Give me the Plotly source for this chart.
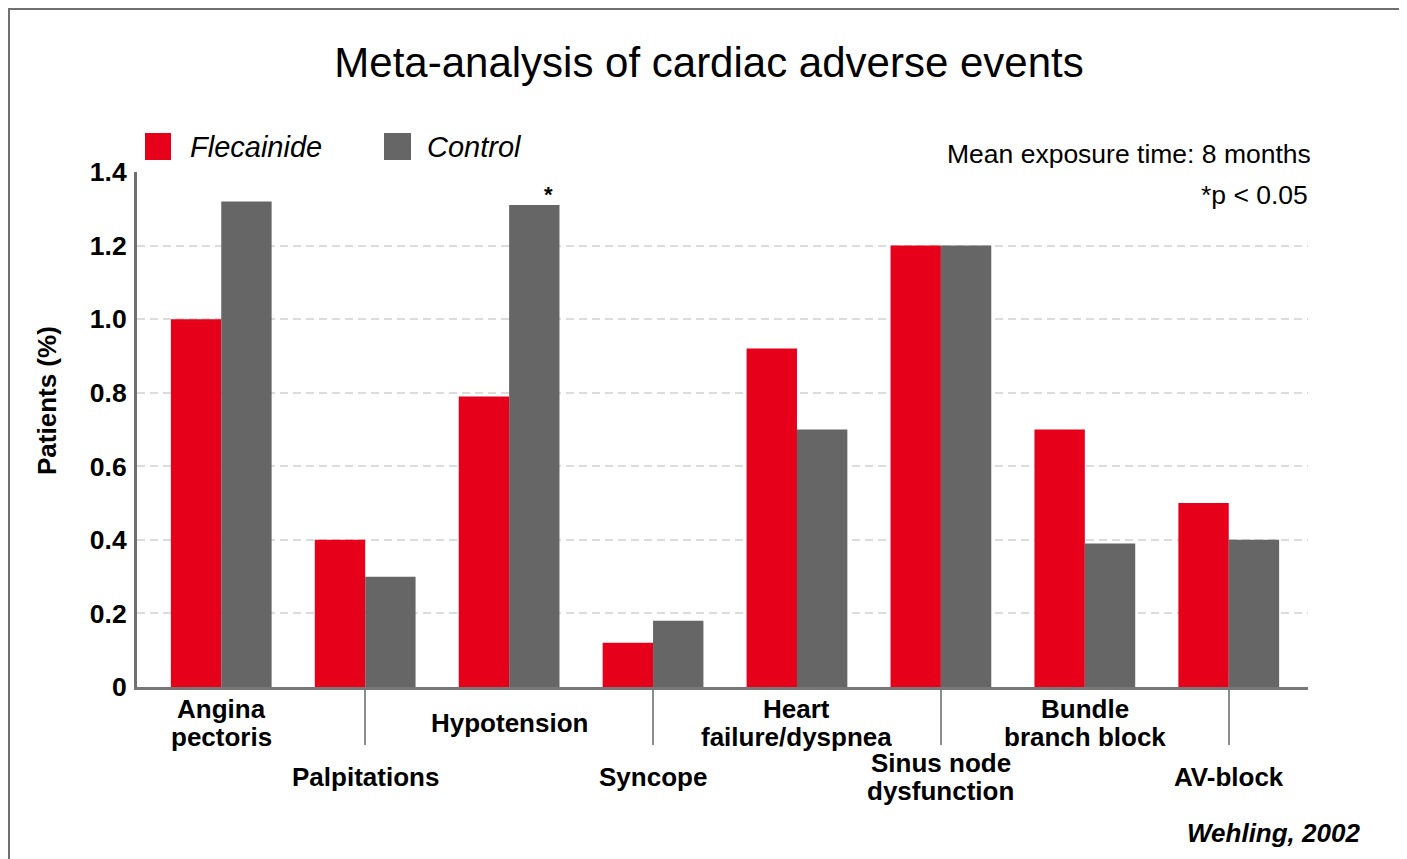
import plotly.graph_objects as go

# ---- data ----
categories = ["Angina\npectoris", "Palpitations", "Hypotension", "Syncope",
              "Heart\nfailure/dyspnea", "Sinus node\ndysfunction",
              "Bundle\nbranch block", "AV-block"]
label_row = [0, 1, 0, 1, 0, 1, 0, 1]
series_names = ["Flecainide", "Control"]
flecainide = [1.00, 0.40, 0.79, 0.12, 0.92, 1.20, 0.70, 0.50]
control = [1.32, 0.30, 1.31, 0.18, 0.70, 1.20, 0.39, 0.40]
control_sig = [False, False, True, False, False, False, False, False]
y_ticks = [0, 0.2, 0.4, 0.6, 0.8, 1.0, 1.2, 1.4]
y_ticktext = ["0", "0.2", "0.4", "0.6", "0.8", "1.0", "1.2", "1.4"]
colors = ["#E6001A", "#666666"]

# ---- layout geometry (pixels, page offset by body margin) ----
OFF = 8
W_FIG, H_FIG = 1407, 859
L, R, T, B = 137 - OFF, 1308 - OFF, 172 - OFF, 687 - OFF
PW, PH = R - L, B - T
FONT = "Liberation Sans, Arial, sans-serif"


def px(x):
    return (x - OFF - L) / PW


def py(y):
    return (B - (y - OFF)) / PH


xs = list(range(len(categories)))
fig = go.Figure()
for name, vals, col in zip(series_names, [flecainide, control], colors):
    fig.add_trace(go.Bar(x=xs, y=vals, name=name, marker=dict(color=col, line=dict(width=0)),
                         showlegend=False))

annotations = []
shapes = []

# x category labels (alternating rows)
row_center = [723, 777]
LINE_H = 28
for i, (lab, row) in enumerate(zip(categories, label_row)):
    lines = lab.split("\n")
    n = len(lines)
    for j, line in enumerate(lines):
        cy = row_center[row] + (j - (n - 1) / 2) * LINE_H
        annotations.append(dict(x=i, xref="x", y=py(cy), yref="paper",
                                text=line, showarrow=False, xanchor="center", yanchor="middle",
                                height=LINE_H, valign="middle",
                                font=dict(family=FONT, size=26, color="black", weight="bold")))

# significance markers
bar_half = 0.175
for i, (v, s) in enumerate(zip(control, control_sig)):
    if s:
        annotations.append(dict(x=i + bar_half, y=v, xref="x", yref="y", text="*",
                                showarrow=False, xshift=14, yshift=-4, yanchor="bottom",
                                font=dict(family=FONT, size=22, color="black", weight="bold")))

# custom legend
leg_sq = [(145, 171), (384, 411)]
leg_txt = [188, 425]
for name, col, (x0, x1), tx in zip(series_names, colors, leg_sq, leg_txt):
    shapes.append(dict(type="rect", xref="paper", yref="paper", x0=px(x0), x1=px(x1),
                       y0=py(160), y1=py(133), fillcolor=col, line=dict(width=0)))
    annotations.append(dict(x=px(tx), y=py(147), xref="paper", yref="paper", text=name,
                            showarrow=False, xanchor="left", yanchor="middle",
                            font=dict(family=FONT, size=29, color="black", style="italic")))

# notes
annotations.append(dict(x=px(1313), y=py(154), xref="paper", yref="paper",
                        text="Mean exposure time: 8 months", showarrow=False,
                        xanchor="right", yanchor="middle",
                        font=dict(family=FONT, size=26.5, color="black")))
annotations.append(dict(x=px(1310), y=py(195), xref="paper", yref="paper",
                        text="*p < 0.05", showarrow=False,
                        xanchor="right", yanchor="middle",
                        font=dict(family=FONT, size=26.5, color="black")))
annotations.append(dict(x=px(1362), y=py(833), xref="paper", yref="paper",
                        text="Wehling, 2002", showarrow=False,
                        xanchor="right", yanchor="middle",
                        font=dict(family=FONT, size=26, color="black", weight="bold", style="italic")))
# y-axis title
annotations.append(dict(x=px(47), y=py(401), xref="paper", yref="paper",
                        text="Patients (%)", showarrow=False, textangle=-90,
                        xanchor="center", yanchor="middle",
                        font=dict(family=FONT, size=26, color="black", weight="bold")))

# frame (left and top edges at the figure's own edge)
shapes.append(dict(type="rect", xref="paper", yref="paper", x0=px(OFF + 1), x1=px(1700),
                   y0=py(1200), y1=py(OFF + 1), line=dict(color="#707070", width=2),
                   fillcolor="rgba(0,0,0,0)", layer="above"))

# x range so that category i centres land on reference positions
c0, step = 221.25 - OFF, 143.93
x_range = [(L - c0) / step, (R - c0) / step]

fig.update_layout(
    width=W_FIG, height=H_FIG,
    margin=dict(l=L, r=W_FIG - R, t=T, b=H_FIG - B, pad=0),
    paper_bgcolor="white", plot_bgcolor="white",
    barmode="group", bargap=0.3, bargroupgap=0,
    title=dict(text="Meta-analysis of cardiac adverse events", xref="container", yref="container",
               x=(709 - OFF) / W_FIG, xanchor="center", y=1 - (62 - OFF) / H_FIG, yanchor="middle",
               font=dict(family=FONT, size=42, color="black")),
    xaxis=dict(range=x_range, tickvals=[i for i, r in zip(xs, label_row) if r == 1],
               showticklabels=False, ticks="outside", ticklen=55, tickwidth=2,
               tickcolor="#8c8c8c", showline=True, linecolor="#777777", linewidth=3,
               showgrid=False, zeroline=False, fixedrange=True),
    yaxis=dict(range=[0, 1.4], tickvals=y_ticks, ticktext=y_ticktext, ticks="",
               ticklabelstandoff=2,
               tickfont=dict(family=FONT, size=26.5, color="black", weight="bold"),
               showline=True, linecolor="#6f6f6f", linewidth=3,
               showgrid=True, gridcolor="#dcdcdc", gridwidth=2, griddash="8px,5px",
               zeroline=False),
    annotations=annotations, shapes=shapes,
)

fig.write_html("out.html")
